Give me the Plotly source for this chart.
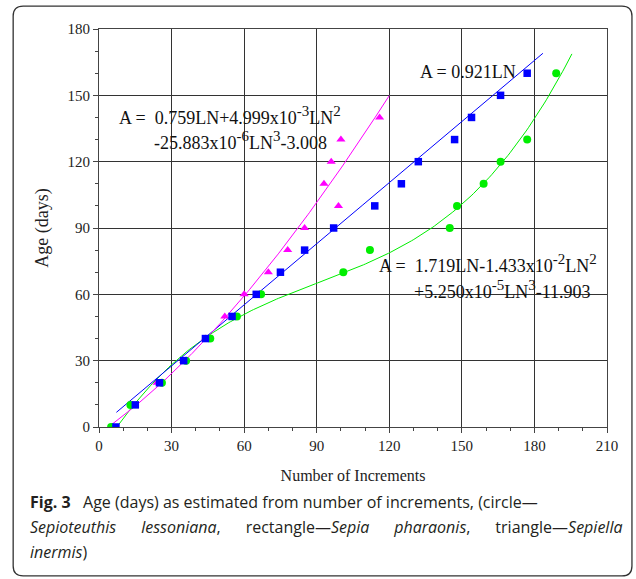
import numpy as np
import plotly.graph_objects as go

# ---- observations: number of increments (LN) vs age (days) ----
lessoniana_ln = [5, 13, 26, 36, 46, 57, 67, 101, 112, 145, 148, 159, 166, 177, 189]
lessoniana_age = [0, 10, 20, 30, 40, 50, 60, 70, 80, 90, 100, 110, 120, 130, 160]

pharaonis_ln = [7, 15, 25, 35, 44, 55, 65, 75, 85, 97, 114, 125, 132, 147, 154, 166, 177]
pharaonis_age = [0, 10, 20, 30, 40, 50, 60, 70, 80, 90, 100, 110, 120, 130, 140, 150, 160]

inermis_ln = [6, 14, 24, 35, 44, 52, 60, 70, 78, 85, 99, 93, 96, 100, 116]
inermis_age = [0, 10, 20, 30, 40, 50, 60, 70, 80, 90, 100, 110, 120, 130, 140]

# ---- fitted growth curves: coefficients of LN^0..LN^3 and LN range drawn ----
lessoniana_coef = [-11.903, 1.719, -1.433e-2, 5.250e-5]
lessoniana_span = [7, 195.5]
pharaonis_coef = [0.0, 0.921, 0.0, 0.0]
pharaonis_span = [7.2, 183.5]
# plotted cubic uses 5.883e-6 for the LN^3 term; the label keeps the published text
inermis_coef = [-3.008, 0.759, 4.999e-3, -5.883e-6]
inermis_span = [5, 120]

x_ticks = [0, 30, 60, 90, 120, 150, 180, 210]
y_ticks = [0, 30, 60, 90, 120, 150, 180]

GREEN = "#00ee00"
BLUE = "#0000ff"
MAGENTA = "#ff00ff"
SERIF = "Liberation Serif"
SANS = "Open Sans"

W, H = 636, 579
L, R, T, B = 98.5, 28.5, 28.5, 151.7


def curve(coef, span, n=200):
    x = np.linspace(span[0], span[1], n)
    y = sum(c * x ** k for k, c in enumerate(coef))
    return x, y


fig = go.Figure()

for coef, span, col in [
    (lessoniana_coef, lessoniana_span, GREEN),
    (pharaonis_coef, pharaonis_span, BLUE),
    (inermis_coef, inermis_span, MAGENTA),
]:
    cx, cy = curve(coef, span)
    fig.add_trace(go.Scatter(x=cx, y=cy, mode="lines", line=dict(color=col, width=1),
                             hoverinfo="skip", showlegend=False))

fig.add_trace(go.Scatter(x=inermis_ln, y=inermis_age, mode="markers", name="Sepiella inermis",
                         marker=dict(symbol="triangle-up", size=8, color=MAGENTA)))
fig.add_trace(go.Scatter(x=lessoniana_ln, y=lessoniana_age, mode="markers", name="Sepioteuthis lessoniana",
                         marker=dict(symbol="circle", size=8, color=GREEN)))
fig.add_trace(go.Scatter(x=pharaonis_ln, y=pharaonis_age, mode="markers", name="Sepia pharaonis",
                         marker=dict(symbol="square", size=7.5, color=BLUE)))

axis_common = dict(
    showgrid=True, gridcolor="#333333", gridwidth=1.3,
    showline=True, linecolor="#444444", linewidth=1.2, mirror=True,
    ticks="outside", ticklen=5, tickwidth=1, tickcolor="#444444",
    zeroline=False,
    tickfont=dict(family=SERIF, size=15, color="#222"),
    minor=dict(dtick=10, ticks="outside", ticklen=3, tickcolor="#444444", showgrid=False),
)

fig.update_xaxes(range=[0, 210], tickvals=x_ticks, **axis_common,
                 title=dict(text="Number of Increments", font=dict(family=SERIF, size=16, color="#222"),
                            standoff=16))
fig.update_yaxes(range=[0, 180], tickvals=y_ticks, **axis_common,
                 title=dict(text="Age (days)", font=dict(family=SERIF, size=18, color="#222"),
                            standoff=14))


def px2paper(px, py):
    return (px - L) / (W - L - R), (H - B - py) / (H - T - B)


def sup(s):
    return f'<sup><span style="font-size:15px">{s}</span></sup>'


eq_font = dict(family=SERIF, size=18, color="#111")
eq_lines = [
    (117, 115, f"A =\u00a0\u00a00.759LN+4.999x10{sup('-3')}LN{sup('2')}"),
    (152, 140, f"-25.883x10{sup('-6')}LN{sup('3')}-3.008"),
    (418, 72, "A = 0.921LN"),
    (377, 263, f"A =\u00a0\u00a01.719LN-1.433x10{sup('-2')}LN{sup('2')}"),
    (412, 290, f"+5.250x10{sup('-5')}LN{sup('3')}-11.903"),
]
annotations = []
for px, py, txt in eq_lines:
    ax_, ay_ = px2paper(px, py)
    annotations.append(dict(x=ax_, y=ay_, xref="paper", yref="paper", text=txt, showarrow=False,
                            xanchor="left", yanchor="middle", font=eq_font))

# caption set as justified lines (wider word gaps on the second line)
gap = "\u00a0" * 6
cap_font = dict(family=SANS, size=16, color="#231f20")
cap_lines = [
    (502, "<b>Fig. 3</b>\u00a0\u00a0\u00a0Age (days) as estimated from number of increments, (circle\u2014"),
    (527, f"<i>Sepioteuthis</i>{gap}<i>lessoniana</i>,{gap}rectangle\u2014<i>Sepia</i>{gap}"
          f"<i>pharaonis</i>,{gap}triangle\u2014<i>Sepiella</i>"),
    (553, "<i>inermis</i>)"),
]
for py, txt in cap_lines:
    ax_, ay_ = px2paper(27, py)
    annotations.append(dict(x=ax_, y=ay_, xref="paper", yref="paper", text=txt, showarrow=False,
                            xanchor="left", yanchor="middle", font=cap_font))

# rounded frame around the figure and its caption
x0, y0 = px2paper(12.5, 576.5)
x1, y1 = px2paper(632.5, 5.5)
rx = 10 / (W - L - R)
ry = 10 / (H - T - B)
frame = (f"M {x0 + rx} {y1} L {x1 - rx} {y1} Q {x1} {y1} {x1} {y1 - ry} "
         f"L {x1} {y0 + ry} Q {x1} {y0} {x1 - rx} {y0} "
         f"L {x0 + rx} {y0} Q {x0} {y0} {x0} {y0 + ry} "
         f"L {x0} {y1 - ry} Q {x0} {y1} {x0 + rx} {y1} Z")

fig.update_layout(
    width=W, height=H,
    margin=dict(l=L, r=R, t=T, b=B, pad=0),
    paper_bgcolor="white", plot_bgcolor="white",
    showlegend=False,
    annotations=annotations,
    shapes=[dict(type="path", path=frame, xref="paper", yref="paper",
                 line=dict(color="#333", width=1.3), layer="below")],
)

fig.write_html("out.html")
